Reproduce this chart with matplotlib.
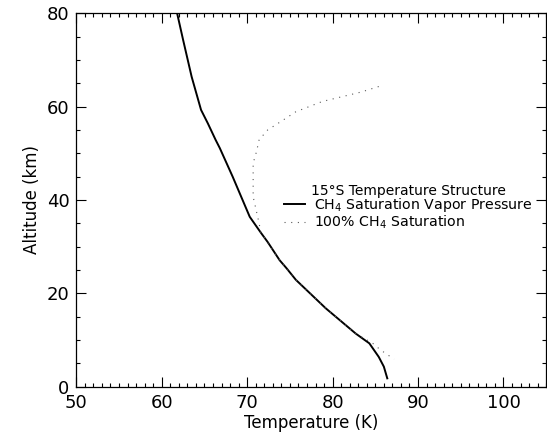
import matplotlib
matplotlib.use("Agg")
import matplotlib.pyplot as plt
from matplotlib.ticker import MultipleLocator

# 15S temperature structure (solid)
temp_k = [61.8, 62.5, 63.5, 64.6, 65.4, 66.3, 66.8, 68.3, 70.3, 71.6, 72.4,
          73.8, 74.6, 75.7, 79.2, 82.7, 84.3, 85.4, 86.0, 86.4]
temp_alt = [80.0, 74.3, 66.4, 59.3, 56.4, 52.9, 51.1, 45.0, 36.4, 33.0, 31.0,
            27.1, 25.4, 22.9, 16.8, 11.4, 9.3, 6.4, 4.3, 1.8]

# 100% CH4 saturation (dotted)
sat_k = [85.4, 83.3, 78.8, 75.7, 73.6, 72.4, 71.4, 71.1, 70.7, 70.7, 70.7,
         71.4, 71.6, 73.8, 75.7, 79.2, 82.7, 84.7, 85.6, 87.2]
sat_alt = [64.3, 63.1, 61.1, 58.9, 56.4, 55.0, 52.9, 50.4, 47.9, 43.6, 40.7,
           35.0, 33.0, 27.1, 22.9, 16.8, 11.4, 9.3, 7.9, 5.9]

plt.rcParams['font.family'] = 'DejaVu Sans'

fig = plt.figure(figsize=(5.47, 4.41), dpi=100)
ax = fig.add_axes([0.1395, 0.123, 0.859, 0.847])

ax.plot(temp_k, temp_alt, color='black', lw=1.4,
        label='CH$_4$ Saturation Vapor Pressure')
ax.plot(sat_k, sat_alt, color='0.35', lw=0.8, ls=(0, (1, 5)),
        label='100% CH$_4$ Saturation')

ax.set_xlim(50, 105)
ax.set_ylim(0, 80)
ax.xaxis.set_major_locator(MultipleLocator(10))
ax.xaxis.set_minor_locator(MultipleLocator(1))
ax.yaxis.set_major_locator(MultipleLocator(20))
ax.yaxis.set_minor_locator(MultipleLocator(5))
ax.tick_params(which='both', direction='in', top=True, right=True,
               width=0.8, labelsize=13)
ax.tick_params(which='major', length=7, pad=5)
ax.tick_params(which='minor', length=3)
for s in ax.spines.values():
    s.set_linewidth(0.9)

ax.set_xlabel('Temperature (K)', fontsize=12, labelpad=2)
ax.set_ylabel('Altitude (km)', fontsize=12, labelpad=4)

leg = ax.legend(title='15°S Temperature Structure', loc='center left',
                bbox_to_anchor=(0.43, 0.48), frameon=False, fontsize=10.2,
                title_fontsize=10, handlelength=1.5, handletextpad=0.6,
                labelspacing=-0.05, borderaxespad=0)
leg._legend_box.sep = -1

fig.savefig('out.png', dpi=100)
